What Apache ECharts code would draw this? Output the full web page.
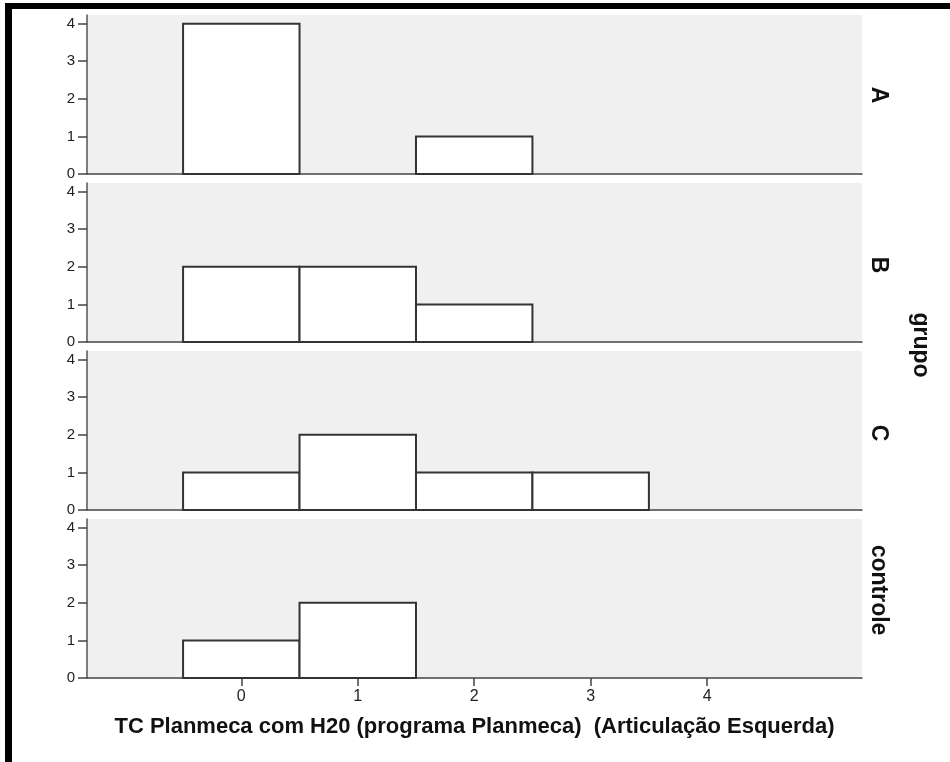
<!DOCTYPE html>
<html>
<head>
<meta charset="utf-8">
<script src="https://cdn.jsdelivr.net/npm/echarts@6/dist/echarts.min.js"></script>
<style>
html,body{margin:0;padding:0;background:#fff;}
#chart{width:950px;height:762px;}
</style>
</head>
<body>
<div id="chart"></div>
<script>
// Data
var binCenters = [0, 1, 2, 3, 4];
var groups = ['A', 'B', 'C', 'controle'];
var countsA = [4, 0, 1, 0, 0];
var countsB = [2, 2, 1, 0, 0];
var countsC = [1, 2, 1, 1, 0];
var countsControle = [1, 2, 0, 0, 0];
var yTicks = [0, 1, 2, 3, 4];
var xTicks = [0, 1, 2, 3, 4];
var xTitle = 'TC Planmeca com H20 (programa Planmeca)  (Articulação Esquerda)';
var facetTitle = 'grupo';

var allCounts = [countsA, countsB, countsC, countsControle];

var FONT = '"Liberation Sans", Arial, sans-serif';
var gridLeft = 87, gridRight = 88, gridHeight = 159;
var gridTops = [15, 183, 351, 519];
var labelYs = [95, 265, 433, 590];

var grids = [], xAxes = [], yAxes = [], series = [], graphics = [];

gridTops.forEach(function (top, i) {
  var last = i === gridTops.length - 1;
  grids.push({
    left: gridLeft, right: gridRight, top: top, height: gridHeight,
    show: true, backgroundColor: '#f0f0f0', borderWidth: 0
  });
  xAxes.push({
    type: 'value', gridIndex: i, min: -1.325, max: 5.33,
    splitLine: {show: false},
    axisLine: {show: true, onZero: false, lineStyle: {color: '#444', width: 1.5}},
    axisTick: {show: last, length: 8, customValues: xTicks, lineStyle: {color: '#444', width: 1.5}},
    axisLabel: {show: last, customValues: xTicks, color: '#222', fontSize: 16, fontFamily: FONT, margin: 11},
    name: last ? xTitle : '',
    nameLocation: 'middle', nameGap: 38,
    nameTextStyle: {fontSize: 22, fontWeight: 'bold', color: '#111', fontFamily: FONT}
  });
  yAxes.push({
    type: 'value', gridIndex: i, min: 0, max: 4.23,
    splitLine: {show: false},
    axisLine: {show: true, onZero: false, lineStyle: {color: '#555', width: 1.5}},
    axisTick: {show: true, length: 9, customValues: yTicks, lineStyle: {color: '#444', width: 1.5}},
    axisLabel: {customValues: yTicks, color: '#222', fontSize: 15, fontFamily: FONT, margin: 12}
  });
  var data = [];
  binCenters.forEach(function (c, k) { data.push([c, allCounts[i][k]]); });
  series.push({
    type: 'custom', xAxisIndex: i, yAxisIndex: i, data: data,
    renderItem: function (params, api) {
      var x = api.value(0), v = api.value(1);
      if (!v) return null;
      var p1 = api.coord([x - 0.5, v]);
      var p2 = api.coord([x + 0.5, 0]);
      return {
        type: 'rect',
        shape: {x: p1[0], y: p1[1], width: p2[0] - p1[0], height: p2[1] - p1[1]},
        style: {fill: '#ffffff', stroke: '#333333', lineWidth: 2}
      };
    }
  });
  graphics.push({
    type: 'text', x: 878, y: labelYs[i], rotation: -Math.PI / 2,
    style: {text: groups[i], fontSize: 23, fontWeight: 'bold', fill: '#111', fontFamily: FONT,
            textAlign: 'center', textVerticalAlign: 'middle'}
  });
});

graphics.push({
  type: 'text', x: 920, y: 345, rotation: -Math.PI / 2,
  style: {text: facetTitle, fontSize: 23, fontWeight: 'bold', fill: '#111', fontFamily: FONT,
          textAlign: 'center', textVerticalAlign: 'middle'}
});
// frame edges (left and top)
graphics.push({type: 'rect', shape: {x: 5, y: 3, width: 7, height: 762}, style: {fill: '#000'}});
graphics.push({type: 'rect', shape: {x: 5, y: 3, width: 945, height: 6}, style: {fill: '#000'}});

var chart = echarts.init(document.getElementById('chart'), null, {renderer: 'canvas'});
chart.setOption({
  animation: false,
  backgroundColor: '#ffffff',
  grid: grids, xAxis: xAxes, yAxis: yAxes, series: series, graphic: graphics
});
</script>
</body>
</html>
